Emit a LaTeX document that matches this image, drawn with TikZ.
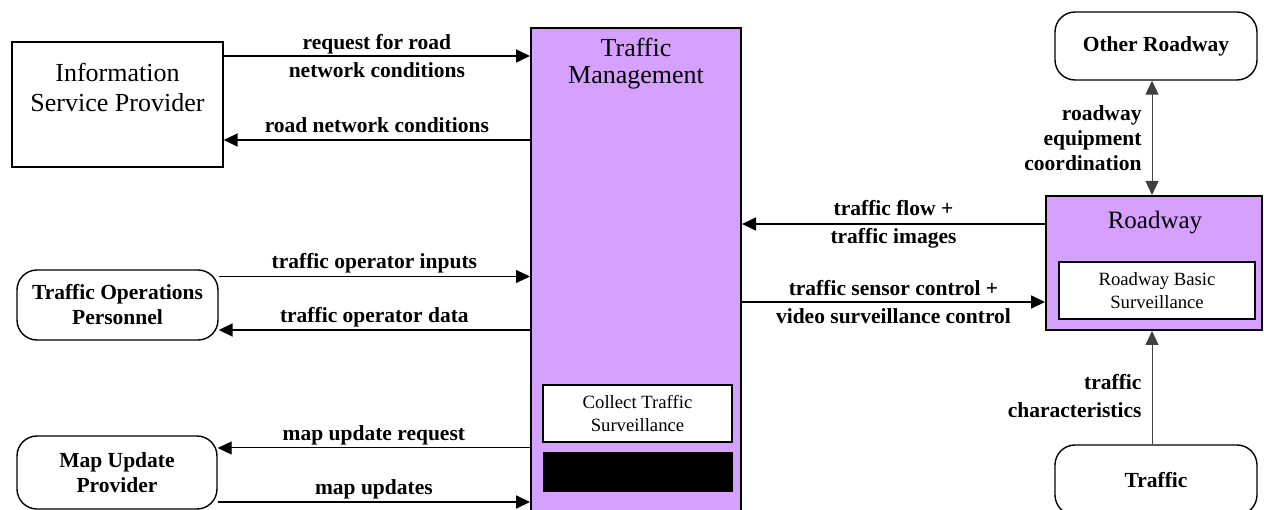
\documentclass[tikz,border=0pt]{standalone}
\usepackage{fontspec}
\setmainfont{Liberation Serif}
\usetikzlibrary{arrows.meta}
\definecolor{tmpurple}{RGB}{214,160,255}
\begin{document}
\begin{tikzpicture}[x=1pt,y=-1pt,
  plainbox/.style={draw, line width=1.4pt, inner sep=0pt},
  rbox/.style={draw, line width=1.4pt, rounded corners=20pt, inner sep=0pt, align=center,
    font=\bfseries\fontsize{21.5}{25}\selectfont},
  titletext/.style={align=center, inner sep=0pt, font=\fontsize{26}{29}\selectfont},
  innerbox/.style={draw, fill=white, line width=1.4pt, inner sep=0pt, align=center,
    font=\fontsize{18.7}{22.5}\selectfont},
  thickarr/.style={-{Triangle[length=14pt,width=13pt]}, line width=1.8pt},
  thinarr/.style={-{Triangle[length=14pt,width=13pt]}, line width=1pt},
  varr/.style={line width=1pt, draw=black!75},
  lab/.style={anchor=base, yshift=7.5pt, inner sep=0pt, font=\bfseries\fontsize{21.5}{25}\selectfont},
  labtwo/.style={align=center, inner sep=0pt, font=\bfseries\fontsize{21.5}{28}\selectfont},
  vlab/.style={anchor=east, xshift=-10pt, align=right, inner sep=0pt, font=\bfseries\fontsize{21.5}{25}\selectfont}]
\useasboundingbox (0,0) rectangle (1264,510);

% Traffic Management
\node[draw, line width=2pt, fill=tmpurple, minimum width=210pt, minimum height=487pt, inner sep=0pt] (tm) at (636,271.5) {};
\node[titletext, font=\fontsize{26}{27}\selectfont] (tmtitle) at (636,64) {Traffic\\Management};
\node[innerbox, minimum width=189pt, minimum height=57pt] (cts) at (637.5,413.5) {Collect Traffic\\Surveillance};
\node[draw, fill=black, line width=1pt, minimum width=189pt, minimum height=38pt, inner sep=0pt] (blk) at (637.5,472) {};

% Information Service Provider
\node[plainbox, minimum width=211pt, minimum height=125pt] (isp) at (117.5,104.5) {};
\node[titletext, font=\fontsize{26}{30}\selectfont] (isptext) at (117.5,87) {Information\\Service Provider};

% Traffic Operations Personnel
\node[rbox, minimum width=201pt, minimum height=70pt] (top) at (117.5,305) {Traffic Operations\\Personnel};

% Map Update Provider
\node[rbox, minimum width=200pt, minimum height=73pt] (mup) at (117,472.5) {Map Update\\Provider};

% Other Roadway
\node[rbox, minimum width=202pt, minimum height=68pt] (orw) at (1156,46) {Other Roadway};

% Traffic
\node[rbox, minimum width=202pt, minimum height=70pt] (trf) at (1156,480) {Traffic};

% Roadway
\node[draw, line width=2pt, fill=tmpurple, minimum width=216pt, minimum height=134pt, inner sep=0pt] (rw) at (1154,263) {};
\node[titletext, font=\fontsize{25}{28}\selectfont] (rwtitle) at (1155,223) {Roadway};
\node[innerbox, minimum width=196pt, minimum height=57pt] (rbs) at (1157,290.5) {Roadway Basic\\Surveillance};

% coordinates for connector rows
\coordinate (r1) at (0,56);
\coordinate (r2) at (0,140);
\coordinate (r3) at (0,276.5);
\coordinate (r4) at (0,330);
\coordinate (r5) at (0,448);
\coordinate (r6) at (0,502);
\coordinate (r7) at (0,224);
\coordinate (r8) at (0,302);
\coordinate (vx) at (1152,0);

% left connectors
\draw[thickarr] (isp.east |- r1) -- node[labtwo] {request for road\\network conditions} (tm.west |- r1);
\draw[thickarr] (tm.west |- r2) -- node[lab] {road network conditions} (isp.east |- r2);
\draw[thinarr] (top.east |- r3) -- node[lab] {traffic operator inputs} (tm.west |- r3);
\draw[thickarr] (tm.west |- r4) -- node[lab] {traffic operator data} (top.east |- r4);
\draw[thinarr] (tm.west |- r5) -- node[lab] {map update request} (mup.east |- r5);
\draw[thickarr] (mup.east |- r6) -- node[lab] {map updates} (tm.west |- r6);

% right connectors
\draw[thickarr] (rw.west |- r7) -- node[labtwo] {traffic flow +\\traffic images} (tm.east |- r7);
\draw[thickarr] (tm.east |- r8) -- node[labtwo] {traffic sensor control +\\video surveillance control} (rw.west |- r8);

% vertical connectors
\draw[varr, {Triangle[length=14pt,width=13pt]}-{Triangle[length=14pt,width=13pt]}]
  (orw.south -| vx) -- node[vlab] {roadway\\equipment\\coordination} (rw.north -| vx);
\draw[varr, -{Triangle[length=14pt,width=13pt]}]
  (trf.north -| vx) -- node[vlab, pos=0.43, font=\bfseries\fontsize{21.5}{28}\selectfont] {traffic\\characteristics} (rw.south -| vx);
\end{tikzpicture}
\end{document}
